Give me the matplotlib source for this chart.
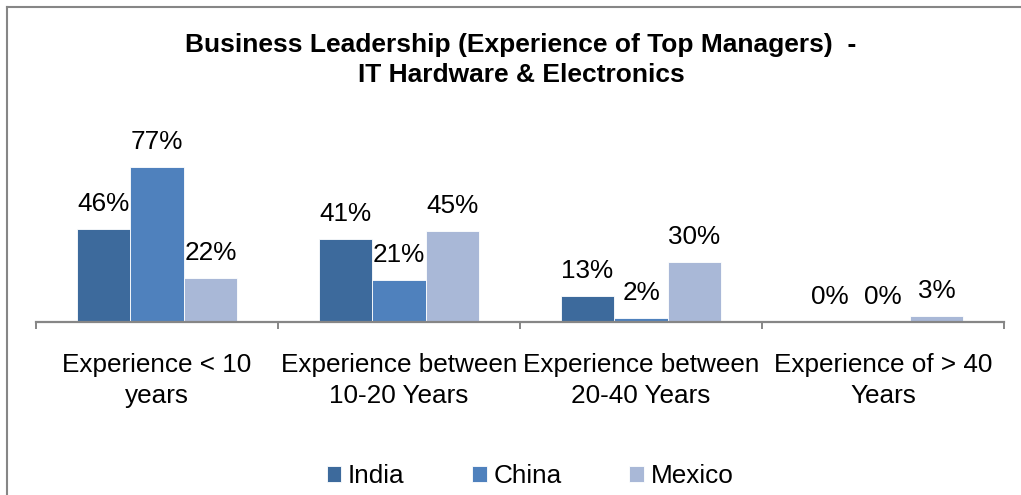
import matplotlib
matplotlib.use("Agg")
import matplotlib.pyplot as plt
import numpy as np

plt.rcParams['font.family'] = ['Liberation Sans', 'DejaVu Sans']

# data
categories = ["Experience < 10\nyears", "Experience between\n10-20 Years",
              "Experience between\n20-40 Years", "Experience of > 40\nYears"]
india = [46, 41, 13, 0]
china = [77, 21, 2, 0]
mexico = [22, 45, 30, 3]
series_names = ["India", "China", "Mexico"]
colors = ["#3d6a9c", "#4f81bd", "#a9b8d7"]

W, H = 1021, 495
fig = plt.figure(figsize=(W / 100, H / 100), dpi=100)

# axes placed in pixel terms
left, right, base, top = 36, 1004, 322, 161
ax = fig.add_axes([left / W, (H - base) / H, (right - left) / W, (base - top) / H])

x = np.arange(len(categories))
width = 0.221
for i, (vals, name, c) in enumerate(zip([india, china, mexico], series_names, colors)):
    pos = x + (i - 1) * width
    bars = ax.bar(pos, vals, width, color=c, edgecolor='white', linewidth=0.6, label=name)
    for p, v in zip(pos, vals):
        ax.annotate(f"{v}%", (p, v), xytext=(0, 13), textcoords='offset points',
                    ha='center', va='baseline', fontsize=18.8, annotation_clip=False)

ax.set_xlim(-0.5, len(categories) - 0.5)
ax.set_ylim(0, 80)
ax.set_yticks([])
for s in ['left', 'right', 'top']:
    ax.spines[s].set_visible(False)
ax.spines['bottom'].set_color('#868686')
ax.spines['bottom'].set_linewidth(1.6)

ax.set_xticks(x)
ax.set_xticklabels(categories, fontsize=18.8, linespacing=1.38)
ax.tick_params(axis='x', which='major', length=0, pad=22)
ax.set_xticks(np.arange(-0.5, len(categories)), minor=True)
ax.tick_params(axis='x', which='minor', length=5, width=1.4, color='#868686')

fig.text(521 / W, 1 - 33 / H,
         "Business Leadership (Experience of Top Managers)  -\nIT Hardware & Electronics",
         ha='center', va='top', fontsize=19, fontweight='bold', linespacing=1.3)

fig.legend(loc='center', bbox_to_anchor=(530 / W, (H - 476) / H), ncol=3, frameon=False,
           fontsize=18.8, handlelength=0.56, handleheight=0.56, handletextpad=0.25,
           columnspacing=2.6, borderaxespad=0)

# chart frame (left and top edges visible)
fig.add_artist(plt.Line2D([7 / W, 7 / W], [0, 1 - 7 / H], color='#868686', lw=1.5,
                          transform=fig.transFigure))
fig.add_artist(plt.Line2D([7 / W, 1], [1 - 7 / H, 1 - 7 / H], color='#868686', lw=1.5,
                          transform=fig.transFigure))

fig.savefig("out.png", dpi=100)
